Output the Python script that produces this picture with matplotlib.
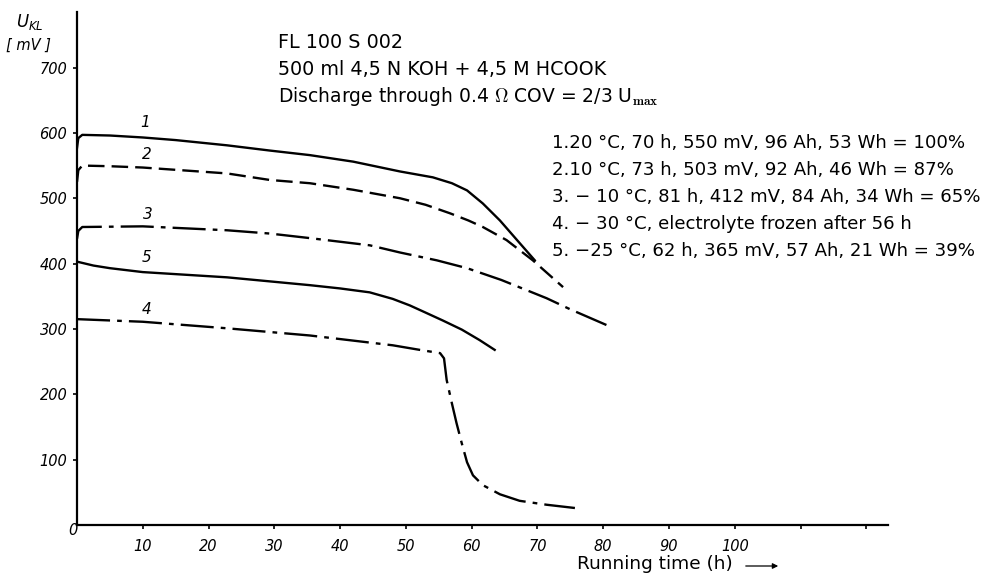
import matplotlib
matplotlib.use("Agg")
import matplotlib.pyplot as plt

plt.rcParams['font.family'] = ['DejaVu Sans']

# curves: time (h), voltage (mV)
c1_t = [0, 0.2, 0.8, 5, 10, 15, 22.8, 29.3, 35.4, 42, 49.1, 54.1, 57, 59.3, 61.7, 64.3, 66.9, 69.6]
c1_v = [577, 592, 597, 596, 593, 589, 581, 573, 566, 556, 541, 532, 523, 512, 492, 466, 436, 405]

c2_t = [0, 0.2, 0.8, 5, 10, 22.8, 29.3, 35.4, 42, 49.1, 53, 56.7, 59.5, 61.7, 65.3, 69.3, 73.9]
c2_v = [525, 543, 550, 549, 547, 538, 528, 523, 513, 500, 490, 477, 466, 456, 436, 405, 364]

c3_t = [0, 0.2, 0.8, 10, 22.8, 29.3, 35.4, 44.5, 49.1, 54.7, 59.3, 64.5, 71.4, 75, 80.5]
c3_v = [438, 450, 456, 457, 451, 446, 439, 428, 417, 405, 393, 375, 347, 330, 306]

c4_t = [0, 10, 22.8, 35.4, 48, 52.1, 55.2, 55.8, 56.2, 57.0, 57.7, 58.5, 59.3, 60.2, 61.7, 64.3, 67.3, 71.4, 75.7]
c4_v = [315, 311, 301, 290, 275, 268, 263, 255, 222, 186, 156, 125, 96, 76, 61, 47, 37, 31, 26]

c5_t = [0, 2.5, 5, 10, 22.8, 35.4, 40, 44.5, 48, 50.6, 53, 55.6, 58.5, 61.2, 63.5]
c5_v = [403, 397, 393, 387, 379, 367, 362, 356, 346, 336, 325, 313, 299, 283, 268]

x_ticks = [10, 20, 30, 40, 50, 60, 70, 80, 90, 100, 110, 120]
x_labels = ['10', '20', '30', '40', '50', '60', '70', '80', '90', '100', '', '']
y_ticks = [100, 200, 300, 400, 500, 600, 700]

legend_lines = [
    "1.20 \u00b0C, 70 h, 550 mV, 96 Ah, 53 Wh = 100%",
    "2.10 \u00b0C, 73 h, 503 mV, 92 Ah, 46 Wh = 87%",
    "3. \u2212 10 \u00b0C, 81 h, 412 mV, 84 Ah, 34 Wh = 65%",
    "4. \u2212 30 \u00b0C, electrolyte frozen after 56 h",
    "5. \u221225 \u00b0C, 62 h, 365 mV, 57 Ah, 21 Wh = 39%",
]

fig = plt.figure(figsize=(9.93, 5.73), dpi=100)
ax = fig.add_axes([77 / 993, 48 / 573, 811 / 993, 513 / 573])

lw = 1.7
ax.plot(c1_t, c1_v, color='black', lw=lw)
ax.plot(c2_t, c2_v, color='black', lw=lw, dashes=(7, 3))
ax.plot(c3_t, c3_v, color='black', lw=lw, dashes=(14, 3, 2, 3))
ax.plot(c4_t, c4_v, color='black', lw=lw, dashes=(14, 3, 2, 3))
ax.plot(c5_t, c5_v, color='black', lw=lw)

# curve numbers
for lab, t, v in [('1', 10.3, 604), ('2', 10.6, 555), ('3', 10.8, 464), ('5', 10.6, 398), ('4', 10.6, 318)]:
    ax.text(t, v, lab, fontsize=11, style='italic', ha='center', va='bottom')

ax.set_xlim(0, 123.3)
ax.set_ylim(0, 785)
ax.spines['top'].set_visible(False)
ax.spines['right'].set_visible(False)
ax.spines['left'].set_linewidth(1.6)
ax.spines['bottom'].set_linewidth(1.6)
ax.set_xticks(x_ticks)
ax.set_xticklabels(x_labels, fontsize=10.5, style='italic')
ax.set_yticks(y_ticks)
ax.set_yticklabels([str(v) for v in y_ticks], fontsize=10.5, style='italic')
ax.tick_params(axis='both', length=3, width=1.2, direction='out')
ax.tick_params(axis='x', pad=7)
ax.tick_params(axis='y', pad=4)
ax.text(-0.6, -8, '0', fontsize=10.5, style='italic', ha='center', va='center')

# axis titles
fig.text(30 / 993, 1 - 22 / 573, r'$U_{KL}$', fontsize=12, ha='center', va='center')
fig.text(28 / 993, 1 - 45 / 573, '[ mV ]', fontsize=10.5, style='italic', ha='center', va='center')
fig.text(577 / 993, 1 - 564 / 573, 'Running time (h)', fontsize=13.3, ha='left', va='center')
ax.annotate('', xy=(781 / 993, 1 - 566 / 573), xytext=(743 / 993, 1 - 566 / 573),
            xycoords='figure fraction',
            arrowprops=dict(arrowstyle='-|>', color='black', lw=0.9, mutation_scale=8))

# header text
fig.text(278 / 993, 1 - 43 / 573, 'FL 100 S 002', fontsize=13.8, va='center')
fig.text(278 / 993, 1 - 70 / 573, '500 ml 4,5 N KOH + 4,5 M HCOOK', fontsize=13.8, va='center')
fig.text(278 / 993, 1 - 97 / 573, r'Discharge through 0.4 $\Omega$ COV = 2/3 U$_{\mathbf{max}}$',
         fontsize=13.5, va='center', math_fontfamily='cm')

for i, line in enumerate(legend_lines):
    fig.text(552 / 993, 1 - (143 + 27 * i) / 573, line, fontsize=13.1, va='center')

fig.savefig('out.png', dpi=100)
